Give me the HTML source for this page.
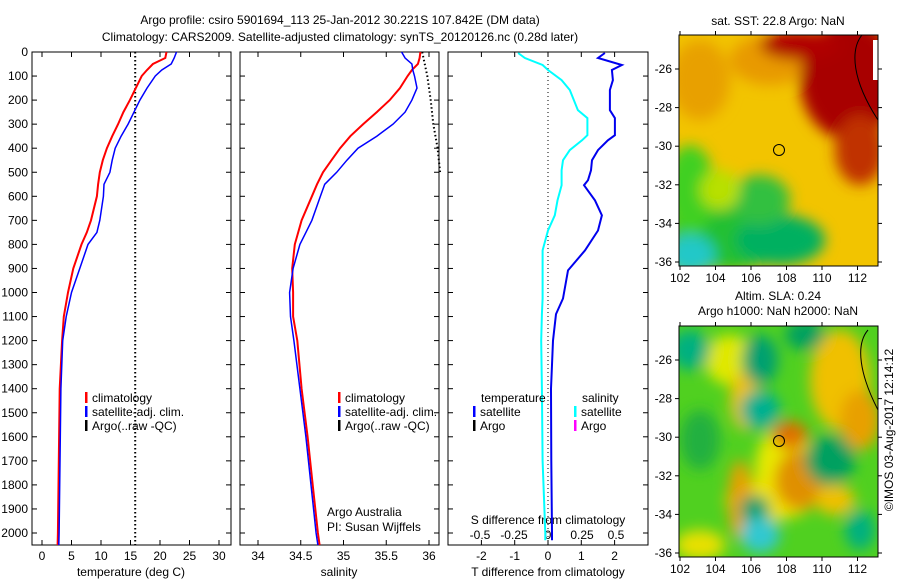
<!DOCTYPE html>
<html><head><meta charset="utf-8"><style>
body{margin:0;background:#fff;}
svg text{font-family:"Liberation Sans",sans-serif;font-size:12px;fill:#000;}
</style></head><body>
<svg width="900" height="580" viewBox="0 0 900 580" xmlns="http://www.w3.org/2000/svg">
<defs>
<filter id="bl" x="-20%" y="-20%" width="140%" height="140%"><feGaussianBlur stdDeviation="7"/></filter>
<clipPath id="c1"><rect x="679" y="35" width="199" height="231"/></clipPath>
<clipPath id="c2"><rect x="679" y="326" width="199" height="231"/></clipPath>
</defs>
<text x="340" y="24" text-anchor="middle">Argo profile: csiro 5901694_113 25-Jan-2012 30.221S 107.842E (DM data)</text>
<text x="340" y="41" text-anchor="middle">Climatology: CARS2009. Satellite-adjusted climatology: synTS_20120126.nc (0.28d later)</text>
<g id="plots"></g>

<g clip-path="url(#c1)">
<rect x="679" y="35" width="199" height="231" fill="#f2c400"/>
<g filter="url(#bl)">
<ellipse cx="700" cy="80" rx="30" ry="40" fill="#e8a000"/>
<ellipse cx="770" cy="60" rx="40" ry="25" fill="#e89a00"/>
<ellipse cx="850" cy="80" rx="50" ry="60" fill="#a80000"/>
<ellipse cx="800" cy="45" rx="40" ry="15" fill="#b00000"/>
<ellipse cx="860" cy="150" rx="25" ry="35" fill="#c03000"/>
<ellipse cx="730" cy="230" rx="60" ry="40" fill="#20c030"/>
<ellipse cx="690" cy="190" rx="25" ry="45" fill="#40d020"/>
<ellipse cx="780" cy="240" rx="45" ry="25" fill="#00b060"/>
<ellipse cx="690" cy="255" rx="25" ry="20" fill="#20c8c8"/>
<ellipse cx="760" cy="200" rx="30" ry="25" fill="#30c040"/>
<ellipse cx="720" cy="190" rx="20" ry="20" fill="#b8e000"/>
</g>
<path d="M862,35 C850,50 852,80 878,120" fill="none" stroke="#000" stroke-width="1"/>
<rect x="873" y="40" width="5" height="40" fill="#fff"/>
</g>
<rect x="679" y="35" width="199" height="231" fill="none" stroke="#000"/>
<circle cx="779" cy="150" r="5.5" fill="none" stroke="#000"/>
<text x="778" y="25" text-anchor="middle">sat. SST: 22.8 Argo: NaN</text>

<g clip-path="url(#c2)">
<rect x="679" y="326" width="199" height="231" fill="#50d020"/>
<g filter="url(#bl)">
<ellipse cx="730" cy="360" rx="25" ry="25" fill="#e0e800"/>
<ellipse cx="745" cy="400" rx="15" ry="30" fill="#f0c000"/>
<ellipse cx="785" cy="470" rx="30" ry="45" fill="#e8e800"/>
<ellipse cx="770" cy="500" rx="45" ry="20" fill="#f0e000"/>
<ellipse cx="740" cy="500" rx="12" ry="40" fill="#e8a000"/>
<ellipse cx="800" cy="480" rx="25" ry="30" fill="#e09000"/>
<ellipse cx="790" cy="435" rx="18" ry="14" fill="#e07000"/>
<ellipse cx="840" cy="380" rx="30" ry="50" fill="#f0c000"/>
<ellipse cx="860" cy="420" rx="20" ry="30" fill="#e8a000"/>
<ellipse cx="835" cy="500" rx="20" ry="15" fill="#f0c000"/>
<ellipse cx="700" cy="545" rx="25" ry="15" fill="#e8e000"/>
<ellipse cx="760" cy="410" rx="20" ry="20" fill="#00b090"/>
<ellipse cx="760" cy="360" rx="18" ry="25" fill="#00a070"/>
<ellipse cx="690" cy="350" rx="20" ry="20" fill="#00b080"/>
<ellipse cx="755" cy="510" rx="15" ry="15" fill="#00a070"/>
<ellipse cx="760" cy="535" rx="20" ry="18" fill="#30c8d0"/>
<ellipse cx="830" cy="460" rx="25" ry="25" fill="#00a060"/>
<ellipse cx="805" cy="335" rx="20" ry="15" fill="#00a060"/>
<ellipse cx="860" cy="530" rx="15" ry="20" fill="#00b080"/>
<ellipse cx="700" cy="440" rx="20" ry="30" fill="#20b040"/>
</g>
<path d="M868,330 C855,345 860,375 878,410" fill="none" stroke="#000"/>
</g>
<rect x="679" y="326" width="199" height="231" fill="none" stroke="#000"/>
<circle cx="779" cy="441" r="5.5" fill="none" stroke="#000"/>
<text x="778" y="300" text-anchor="middle">Altim. SLA: 0.24</text>
<text x="778" y="315" text-anchor="middle">Argo h1000: NaN h2000: NaN</text>
<g id="maps"></g>
<text transform="translate(893,430) rotate(-90)" text-anchor="middle">©IMOS 03-Aug-2017 12:14:12</text>
</svg>
<script>
const NS='http://www.w3.org/2000/svg';
const depths=[0,25,50,75,100,150,200,250,300,350,400,450,500,550,600,700,750,800,900,1000,1100,1200,1400,1600,1800,2000,2050];
const tClim=[21.1,20.9,18.8,17.8,16.9,15.9,14.9,13.8,12.9,11.9,11.0,10.3,9.8,9.5,9.3,8.3,7.6,6.7,5.3,4.4,3.7,3.4,3.0,2.9,2.8,2.7,2.65];
const tSat=[22.8,22.4,21.9,20.3,19.2,17.8,16.6,15.6,14.6,13.4,12.4,11.9,11.5,10.5,10.4,9.8,9.3,7.8,6.4,5.0,4.1,3.5,3.2,3.1,3.0,2.9,2.85];
const sClim=[35.9,35.89,35.87,35.8,35.75,35.66,35.54,35.39,35.23,35.08,34.96,34.86,34.76,34.69,34.63,34.51,34.47,34.43,34.4,34.41,34.41,34.46,34.51,34.58,34.64,34.7,34.72];
const sSat=[35.68,35.72,35.8,35.81,35.83,35.86,35.8,35.72,35.58,35.39,35.17,35.04,34.92,34.78,34.73,34.63,34.56,34.49,34.41,34.37,34.38,34.42,34.49,34.56,34.62,34.68,34.7];
const argoDepths=[0,100,200,300,400,500];
const sArgoDotted=[35.92,35.98,36.02,36.05,36.1,36.13];
const tArgoDotted=15.8;
const dDepths=[4,25,54,75,117,158,242,275,346,367,408,450,492,533,554,617,679,742,825,908,1025,1090,1200,1400,1700,2000,2030];
const tDiffSat=[1.71,1.5,2.22,1.92,1.95,1.86,1.86,2.01,2.01,1.8,1.5,1.32,1.29,1.2,1.08,1.41,1.62,1.5,1.11,0.6,0.45,0.24,0.15,0.09,0.1,0.12,0.12];
const sDiffSat=[-0.22,-0.17,-0.04,0,0.1,0.16,0.22,0.29,0.29,0.25,0.16,0.11,0.1,0.1,0.1,0.07,0.05,0,-0.04,-0.04,-0.04,-0.045,-0.05,-0.045,-0.04,-0.02,-0.02];
const depthTicks=[0,100,200,300,400,500,600,700,800,900,1000,1100,1200,1300,1400,1500,1600,1700,1800,1900,2000];
const tTicks=[0,5,10,15,20,25,30];
const sTicks=[34,34.5,35,35.5,36];
const sTickLabels=['34','34.5','35','35.5','36'];
const dTTicks=[-2,-1,0,1,2];
const dSTicks=[-0.5,-0.25,0,0.25,0.5];
const dSTickLabels=['-0.5','-0.25','0','0.25','0.5'];
const lonTicks=[102,104,106,108,110,112];
const latTicks=[-26,-28,-30,-32,-34,-36];

const yTop=52,yBot=545;
const yD=d=>yTop+d*0.2405;
const panels=[
 {x0:32,x1:231,xs:v=>42+v*5.9},
 {x0:240,x1:439,xs:v=>258+(v-34)*85.5},
 {x0:448,x1:648,xs:v=>548+v*33.3}
];
const sxDiff=v=>548+v*136;
const root=document.getElementById('plots');
function mk(tag,attrs,parent){const e=document.createElementNS(NS,tag);for(const k in attrs)e.setAttribute(k,attrs[k]);(parent||root).appendChild(e);return e;}
function txt(x,y,s,anchor,parent){const t=mk('text',{x:x,y:y,'text-anchor':anchor||'start'},parent);t.textContent=s;return t;}
function line(xs,ys,color,w,dash,name){
 let d='';for(let i=0;i<xs.length;i++)d+=(i?'L':'M')+xs[i].toFixed(1)+','+ys[i].toFixed(1);
 const p=mk('path',{d:d,fill:'none',stroke:color,'stroke-width':w});
 if(dash)p.setAttribute('stroke-dasharray',dash);
 
 
 return p;
}
panels.forEach((p,i)=>{
 const r=mk('rect',{x:p.x0,y:yTop,width:p.x1-p.x0,height:yBot-yTop,fill:'none',stroke:'#000'});
 
 
 depthTicks.forEach(d=>{
  mk('line',{x1:p.x0,x2:p.x0+5,y1:yD(d),y2:yD(d),stroke:'#000'});
  mk('line',{x1:p.x1,x2:p.x1-5,y1:yD(d),y2:yD(d),stroke:'#000'});
 });
});
depthTicks.forEach(d=>{const t=txt(28,yD(d)+4,String(d),'end');
 
 });
function xticks(p,ticks,labels,ly){
 ticks.forEach((v,i)=>{const x=p.xs(v);
  mk('line',{x1:x,x2:x,y1:yTop,y2:yTop+5,stroke:'#000'});
  mk('line',{x1:x,x2:x,y1:yBot,y2:yBot-5,stroke:'#000'});
  const t=txt(x,ly,labels[i],'middle');
  
  });
}
xticks(panels[0],tTicks,tTicks.map(String),560);
xticks(panels[1],sTicks,sTickLabels,560);
xticks(panels[2],dTTicks,dTTicks.map(String),560);
dSTicks.forEach((v,i)=>{const t=txt(sxDiff(v),539,dSTickLabels[i],'middle');
 
 });
let t;
t=txt(131,576,'temperature (deg C)','middle');
t=txt(339,576,'salinity','middle');
t=txt(548,576,'T difference from climatology','middle');
t=txt(548,524,'S difference from climatology','middle');

const P0=panels[0],P1=panels[1],P2=panels[2];
line([P0.xs(tArgoDotted),P0.xs(tArgoDotted)],[yD(0),yBot],'#000',2,'1.5,2.5','argo-temperature-dotted');
line(tClim.map(P0.xs),depths.map(yD),'#f00',2,null,'temperature-climatology-line');
line(tSat.map(P0.xs),depths.map(yD),'#00f',1.5,null,'temperature-satellite-line');
line(sArgoDotted.map(P1.xs),argoDepths.map(yD),'#000',2,'1.5,2.5','argo-salinity-dotted');
line(sClim.map(P1.xs),depths.map(yD),'#f00',2,null,'salinity-climatology-line');
line(sSat.map(P1.xs),depths.map(yD),'#00f',1.5,null,'salinity-satellite-line');
line([548,548],[yTop,yBot],'#000',1,'1,3','zero-line');
line(sDiffSat.map(sxDiff),dDepths.map(yD),'#00ffff',2,null,'salinity-diff-satellite-line');
line(tDiffSat.map(P2.xs),dDepths.map(yD),'#0000ee',2,null,'temperature-diff-satellite-line');

function legend(x,y,items){
 items.forEach((it,i)=>{
  const yy=y+i*14;
  mk('rect',{x:x,y:yy-10,width:2.5,height:11,fill:it[1]});
  const t=txt(x+7,yy,it[0]);
  
  
 });
}
legend(85,402,[['climatology','#f00'],['satellite-adj. clim.','#00f'],['Argo(..raw -QC)','#000']]);
legend(338,402,[['climatology','#f00'],['satellite-adj. clim.','#00f'],['Argo(..raw -QC)','#000']]);
t=txt(481,402,'temperature');
t=txt(582,402,'salinity');
legend(473,416,[['satellite','#00f'],['Argo','#000']]);
legend(574,416,[['satellite','#00ffff'],['Argo','#ff00ff']]);
t=txt(327,516,'Argo Australia');
t=txt(327,531,'PI: Susan Wijffels');

const mroot=document.getElementById('maps');
const lonX=v=>680+(v-102)*17.75;
[[35,266,69],[326,557,360]].forEach((m,mi)=>{
 const latY=v=>m[2]+(-26-v)*19.3;
 lonTicks.forEach(v=>{
  mk('line',{x1:lonX(v),x2:lonX(v),y1:m[0]-4,y2:m[0],stroke:'#000'},mroot);
  mk('line',{x1:lonX(v),x2:lonX(v),y1:m[1],y2:m[1]+4,stroke:'#000'},mroot);
  const t=txt(lonX(v),m[1]+16,String(v),'middle',mroot);
  
  
 });
 latTicks.forEach(v=>{
  mk('line',{x1:675,x2:679,y1:latY(v),y2:latY(v),stroke:'#000'},mroot);
  mk('line',{x1:878,x2:882,y1:latY(v),y2:latY(v),stroke:'#000'},mroot);
  const t=txt(672,latY(v)+4,String(v),'end',mroot);
  
  
 });
});
</script>
</body></html>
